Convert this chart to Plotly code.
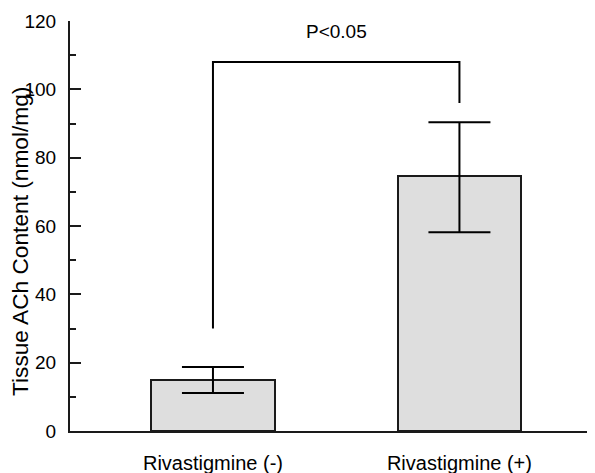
import plotly.graph_objects as go

categories = ["Rivastigmine (-)", "Rivastigmine (+)"]
means = [14.9, 74.6]
err_upper = [18.7, 90.4]
err_lower = [11.1, 58.2]
y_ticks = [0, 20, 40, 60, 80, 100, 120]
bracket_left_y = 30
bracket_top_y = 108
bracket_right_y = 96
p_label = "P<0.05"
p_label_y = 116.8
y_title = "Tissue ACh Content (nmol/mg)"

xpos = list(range(len(categories)))
plus = [u - m for u, m in zip(err_upper, means)]
minus = [m - l for m, l in zip(means, err_lower)]

FONT = "Liberation Sans, Arial, sans-serif"

fig = go.Figure()
fig.add_trace(go.Bar(
    x=xpos, y=means, width=0.5,
    marker=dict(color="#dedede", line=dict(color="#1a1a1a", width=2)),
    error_y=dict(type="data", symmetric=False, array=plus, arrayminus=minus,
                 color="black", thickness=2, width=31),
    showlegend=False, hoverinfo="skip",
))
fig.add_trace(go.Scatter(
    x=[xpos[0], xpos[0], xpos[1], xpos[1]],
    y=[bracket_left_y, bracket_top_y, bracket_top_y, bracket_right_y],
    mode="lines", line=dict(color="black", width=2),
    showlegend=False, hoverinfo="skip", cliponaxis=False,
))
fig.add_annotation(x=(xpos[0] + xpos[1]) / 2, y=p_label_y, text=p_label,
                   showarrow=False, font=dict(size=19, color="black", family=FONT))
fig.add_annotation(xref="paper", yref="paper", x=0, y=0.5, xanchor="center", yanchor="middle",
                   xshift=-50, yshift=-16, textangle=-90, text=y_title, showarrow=False,
                   font=dict(size=22.7, color="black", family=FONT))

fig.update_layout(
    width=587, height=465,
    margin=dict(l=62, r=0, t=13, b=42),
    paper_bgcolor="white", plot_bgcolor="white",
    font=dict(family=FONT, size=19, color="black"),
    bargap=0,
)
fig.update_xaxes(
    range=[-0.58, 1.55], tickmode="array", tickvals=xpos, ticktext=categories,
    showline=True, linecolor="#1a1a1a", linewidth=2, ticks="", showgrid=False,
    zeroline=False, ticklabelstandoff=13, tickfont=dict(size=20), automargin=False,
)
fig.update_yaxes(
    range=[0, 120], tickmode="array", tickvals=y_ticks,
    showline=True, linecolor="#1a1a1a", linewidth=2,
    ticks="inside", ticklen=11, tickwidth=2, tickcolor="#1a1a1a",
    minor=dict(dtick=10, ticks="inside", ticklen=6, tickwidth=2, tickcolor="#1a1a1a"),
    showgrid=False, zeroline=False, ticklabelstandoff=8, automargin=False,
)

fig.write_html("out.html")
